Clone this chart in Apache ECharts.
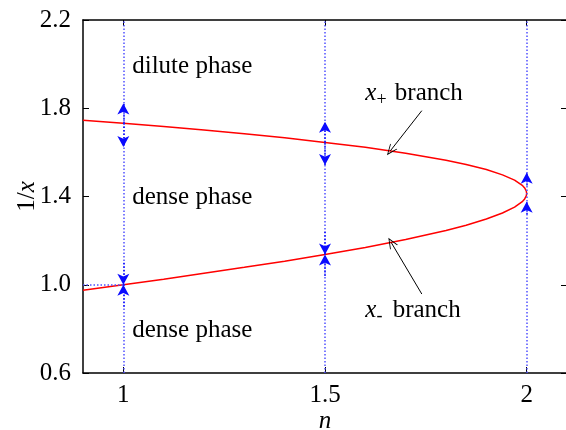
<!DOCTYPE html>
<html>
<head>
<meta charset="utf-8">
<script src="https://cdn.jsdelivr.net/npm/echarts@6/dist/echarts.min.js"></script>
<style>
  html, body { margin: 0; padding: 0; background: #fff; }
  #chart { width: 566px; height: 430px; }
</style>
</head>
<body>
<div id="chart"></div>
<script>
// red curve: [n, 1/x], along x+ branch then back along x- branch
var curvePoints = [
    [0.9, 1.746], [1.0, 1.732], [1.1, 1.717], [1.2, 1.701], [1.3, 1.684],
    [1.4, 1.666], [1.5, 1.645], [1.6, 1.623], [1.7, 1.596], [1.8, 1.564],
    [1.85, 1.545], [1.9, 1.522], [1.94, 1.498], [1.97, 1.474], [1.99, 1.449],
    [1.995, 1.439], [1.999, 1.425], [2.0, 1.414],
    [1.999, 1.403], [1.995, 1.389], [1.99, 1.378], [1.97, 1.352], [1.94, 1.325],
    [1.9, 1.298], [1.85, 1.270], [1.8, 1.246], [1.7, 1.205], [1.6, 1.169],
    [1.5, 1.137], [1.4, 1.107], [1.3, 1.079], [1.2, 1.052], [1.1, 1.025],
    [1.0, 1.0], [0.9, 0.975]
];
var phaseLines = [1, 1.5, 2];
var xTicks = [1, 1.5, 2];
// blue arrows: [n, from, to]
var blueArrows = [
    [1, 1.733, 1.822], [1, 1.733, 1.624],
    [1, 1.10, 1.0], [1, 0.90, 1.0],
    [1.5, 1.645, 1.739], [1.5, 1.645, 1.543],
    [1.5, 1.24, 1.137], [1.5, 1.04, 1.137],
    [2, 1.45, 1.508], [2, 1.32, 1.376]
];
// black pointer arrows: [n0, y0, n1, y1]
var pointers = [
    [1.740, 1.789, 1.662, 1.607],
    [1.740, 0.958, 1.664, 1.192]
];
// text labels: [n, y, text]
var textLabels = [
    [1.022, 1.991, 'dilute phase'],
    [1.022, 1.398, 'dense phase'],
    [1.022, 0.795, 'dense phase'],
    [1.600, 1.869, '{i|x}{p|+} branch'],
    [1.600, 0.885, '{i|x}{m|-} branch']
];

var font = 'Liberation Serif';
var fs = 25;
var chart = echarts.init(document.getElementById('chart'));

var blueLines = phaseLines.map(function (v) {
    return { xAxis: v };
});
blueLines.push([{ coord: [0.9, 1.0] }, { coord: [1, 1.0] }]);

var arrowLines = blueArrows.map(function (a) {
    return [{ coord: [a[0], a[1]], symbol: 'none' }, { coord: [a[0], a[2]], symbol: 'arrow' }];
});
var pointerLines = pointers.map(function (p) {
    return [{ coord: [p[0], p[1]], symbol: 'none' }, { coord: [p[2], p[3]] }];
});

var option = {
    animation: false,
    grid: { left: 83, right: -1, top: 20, bottom: 57, outerBoundsMode: 'none', containLabel: false },
    xAxis: [{
        type: 'value', min: 0.9, max: 2.1,
        name: 'n', nameLocation: 'middle', nameGap: 36, nameMoveOverlap: false,
        nameTextStyle: { fontFamily: font, fontSize: fs, fontStyle: 'italic', color: '#000' },
        axisLine: { lineStyle: { color: '#000', width: 1.5 } },
        axisTick: { inside: true, length: 6, customValues: xTicks, lineStyle: { color: '#000' } },
        axisLabel: { customValues: xTicks, margin: 10, fontFamily: font, fontSize: fs, color: '#000' },
        splitLine: { show: false }
    }, {
        type: 'value', min: 0.9, max: 2.1, position: 'top',
        axisLine: { show: true, lineStyle: { color: '#000', width: 1.5 } },
        axisTick: { inside: true, length: 6, customValues: xTicks, lineStyle: { color: '#000' } },
        axisLabel: { show: false },
        splitLine: { show: false }
    }],
    yAxis: [{
        type: 'value', min: 0.6, max: 2.2, interval: 0.4,
        name: '{a|1/}{i|x}', nameLocation: 'middle', nameGap: 43, nameRotate: 90,
        nameMoveOverlap: false,
        nameTextStyle: {
            rich: {
                a: { fontFamily: font, fontSize: fs, color: '#000' },
                i: { fontFamily: font, fontSize: fs, fontStyle: 'italic', color: '#000' }
            }
        },
        axisLine: { show: true, lineStyle: { color: '#000', width: 1.5 } },
        axisTick: { inside: true, length: 6, lineStyle: { color: '#000' } },
        axisLabel: {
            margin: 12, fontFamily: font, fontSize: fs, color: '#000',
            formatter: function (v) { return v.toFixed(1); }
        },
        splitLine: { show: false }
    }, {
        type: 'value', min: 0.6, max: 2.2, interval: 0.4, position: 'right',
        axisLine: { show: true, lineStyle: { color: '#000', width: 1.5 } },
        axisTick: { inside: true, length: 6, lineStyle: { color: '#000' } },
        axisLabel: { show: false },
        splitLine: { show: false }
    }],
    series: [
        {
            name: 'guides', type: 'line', data: [], silent: true,
            markLine: {
                silent: true, animation: false, label: { show: false },
                symbol: 'none',
                lineStyle: { color: '#5050ff', width: 1.5, type: [1.5, 2] },
                data: blueLines
            }
        },
        {
            name: 'curve', type: 'line', data: curvePoints, showSymbol: false,
            lineStyle: { color: '#ff0000', width: 1.5 }, z: 3
        },
        {
            name: 'arrows', type: 'line', data: [], silent: true, z: 4,
            markLine: {
                silent: true, animation: false, label: { show: false },
                symbolSize: [9, 11],
                lineStyle: { color: '#0a0aff', width: 1.5, type: [1.5, 2] },
                data: arrowLines
            }
        },
        {
            name: 'pointers', type: 'line', data: [], silent: true, z: 4,
            markLine: {
                silent: true, animation: false, label: { show: false },
                symbol: ['none', 'path://M5,0 L10,12 L9,12 L5,2.5 L1,12 L0,12 Z'],
                symbolSize: [9, 11],
                lineStyle: { color: '#000', width: 1, type: 'solid' },
                data: pointerLines
            }
        },
        {
            name: 'labels', type: 'scatter', symbolSize: 0, silent: true,
            itemStyle: { opacity: 1 },
            data: textLabels.map(function (t) {
                return { value: [t[0], t[1]], name: t[2] };
            }),
            label: {
                show: true, position: 'right', distance: 0,
                formatter: function (p) { return p.name; },
                fontFamily: font, fontSize: fs, color: '#000',
                rich: {
                    i: { fontFamily: font, fontSize: fs, fontStyle: 'italic', color: '#000' },
                    p: { fontFamily: font, fontSize: 18, color: '#000', padding: [14, 2, 0, 0] },
                    m: { fontFamily: font, fontSize: 18, color: '#000', padding: [12, 4, 0, 0] }
                }
            }
        }
    ]
};
chart.setOption(option);
</script>
</body>
</html>
